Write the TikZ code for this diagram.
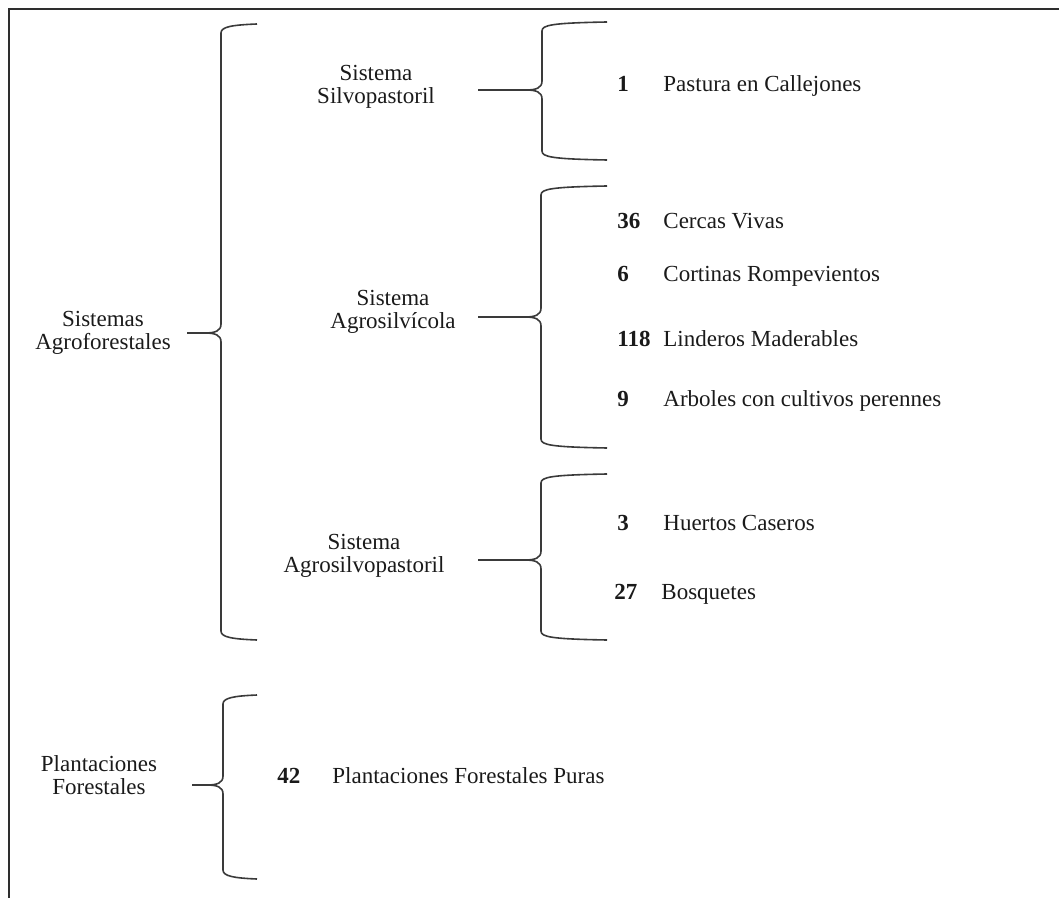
\documentclass[tikz,border=0pt]{standalone}
\usepackage{fontspec}
\setmainfont{Liberation Serif}
\usetikzlibrary{positioning}
\definecolor{ink}{HTML}{1A1A1A}
\definecolor{frameline}{HTML}{2E2E2E}
\definecolor{braceline}{HTML}{3A3A3A}
\tikzset{
  frame/.style={draw=frameline, line width=1pt},
  bracket/.style={draw=braceline, line width=0.8pt},
  stub/.style={draw=braceline, line width=0.8pt},
  grouptext/.style={
    font=\fontsize{11.5}{11.5}\selectfont,
    align=center,
    text=ink,
    inner sep=0pt
  },
  count/.style={
    font=\fontsize{11.5}{13}\selectfont\bfseries,
    anchor=base west,
    text=ink,
    inner sep=0pt
  },
  itemtext/.style={
    font=\fontsize{11.5}{13}\selectfont,
    anchor=base west,
    text=ink,
    inner sep=0pt
  }
}
% curly bracket: name of tip, x of spine, top, cusp, bottom, x of arm ends
\newcommand{\llave}[6]{%
  \coordinate (#1) at (#2-16,#4);
  \draw[bracket] (#6,#3) .. controls (#2+10,#3+1) and (#2,#3+3) .. (#2,#3+9)
    -- (#2,#4-9) .. controls (#2,#4-2) and (#2-6,#4) .. (#1)
    .. controls (#2-6,#4) and (#2,#4+2) .. (#2,#4+9)
    -- (#2,#5-9) .. controls (#2,#5-3) and (#2+10,#5-1) .. (#6,#5);
}

\begin{document}
\begin{tikzpicture}[x=0.5pt,y=-0.5pt]
  \useasboundingbox (0,0) rectangle (1059,898);
  \draw[frame] (1059,9) -- (9,9) -- (9,898);

  % group labels
  \node[grouptext] (agro) at (103,333) {Sistemas\\Agroforestales};
  \node[grouptext] (plant) at (99,775) {Plantaciones\\Forestales};
  \node[grouptext] (silvo) at (376,87) {Sistema\\Silvopastoril};
  \node[grouptext] (agrosilv) at (393,312) {Sistema\\Agrosilvícola};
  \node[grouptext] (agrosilvop) at (364,556) {Sistema\\Agrosilvopastoril};

  % brackets
  \llave{tipAgro}{221}{24}{333}{640}{257}
  \llave{tipPlant}{223}{695}{785}{879}{257}
  \llave{tipSilvo}{542}{22}{90}{160}{607}
  \llave{tipAgrosilv}{541}{186}{317}{448}{607}
  \llave{tipAgrosilvop}{541}{474}{560}{640}{607}

  \coordinate (fromAgro) at (187,333);
  \coordinate (fromPlant) at (192,785);
  \coordinate (fromSilvo) at (478,90);
  \coordinate (fromAgrosilv) at (478,317);
  \coordinate (fromAgrosilvop) at (478,560);
  \draw[stub] (fromAgro) -- (tipAgro);
  \draw[stub] (fromPlant) -- (tipPlant);
  \draw[stub] (fromSilvo) -- (tipSilvo);
  \draw[stub] (fromAgrosilv) -- (tipAgrosilv);
  \draw[stub] (fromAgrosilvop) -- (tipAgrosilvop);

  % items (baselines)
  \node[count] (n1) at (617,92) {1};
  \node[itemtext] (i1) at (663,92) {Pastura en Callejones};
  \node[count] (n36) at (617,229) {36};
  \node[itemtext] (i36) at (663,229) {Cercas Vivas};
  \node[count] (n6) at (617,282) {6};
  \node[itemtext] (i6) at (663,282) {Cortinas Rompevientos};
  \node[count] (n118) at (617,347) {118};
  \node[itemtext] (i118) at (663,347) {Linderos Maderables};
  \node[count] (n9) at (617,406) {9};
  \node[itemtext] (i9) at (663,406) {Arboles con cultivos perennes};
  \node[count] (n3) at (617,530) {3};
  \node[itemtext] (i3) at (663,530) {Huertos Caseros};
  \node[count] (n27) at (614,599) {27};
  \node[itemtext] (i27) at (661,599) {Bosquetes};
  \node[count] (n42) at (277,783) {42};
  \node[itemtext] (i42) at (332,783) {Plantaciones Forestales Puras};
\end{tikzpicture}
\end{document}
